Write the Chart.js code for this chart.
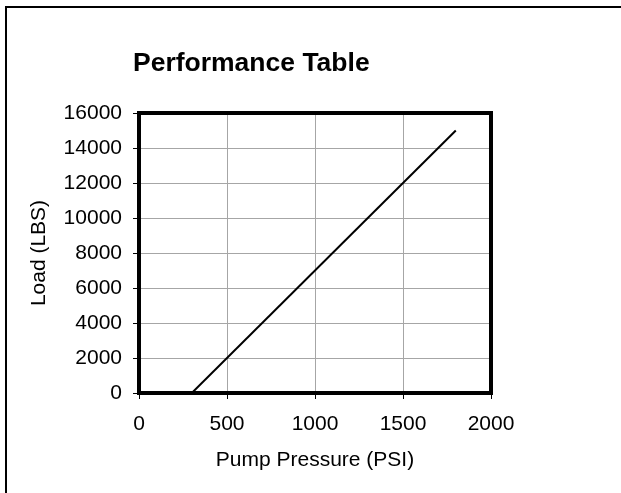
<!DOCTYPE html>
<html>
<head>
<meta charset="utf-8">
<script src="https://cdn.jsdelivr.net/npm/chart.js@4/dist/chart.umd.min.js"></script>
<style>
  html, body { margin: 0; padding: 0; background: #fff; }
  #wrap { position: relative; width: 621px; height: 493px; overflow: hidden; }
  #frame { position: absolute; left: 5px; top: 6px; width: 700px; height: 600px;
           border-top: 2px solid #000; border-left: 2px solid #000; box-sizing: border-box; }
  canvas { position: absolute; left: 0; top: 0; }
</style>
</head>
<body>
<div id="wrap">
  <div id="frame"></div>
  <canvas id="c" width="621" height="493"></canvas>
</div>
<script>
const chartTitle = "Performance Table";
const xTitle = "Pump Pressure (PSI)";
const yTitle = "Load (LBS)";
const pressurePSI = [300, 1800];
const loadLBS = [0, 15000];
const xTicks = [0, 500, 1000, 1500, 2000];
const yTicks = [0, 2000, 4000, 6000, 8000, 10000, 12000, 14000, 16000];

const FONT = '"Liberation Sans", Arial, sans-serif';

const framePlugin = {
  id: 'frameAndTitle',
  afterDraw(chart) {
    const {ctx, chartArea: a} = chart;
    ctx.save();
    ctx.strokeStyle = '#000';
    ctx.lineWidth = 4;
    ctx.strokeRect(a.left, a.top, a.right - a.left, a.bottom - a.top);
    ctx.fillStyle = '#000';
    ctx.font = 'bold 26.5px ' + FONT;
    ctx.textBaseline = 'alphabetic';
    ctx.textAlign = 'left';
    ctx.fillText(chartTitle, 133, 71);
    ctx.restore();
  }
};

new Chart(document.getElementById('c'), {
  type: 'scatter',
  data: {
    datasets: [{
      data: pressurePSI.map((p, i) => ({x: p, y: loadLBS[i]})),
      showLine: true,
      borderColor: '#000',
      borderWidth: 2,
      pointRadius: 0,
      fill: false
    }]
  },
  options: {
    responsive: false,
    animation: false,
    layout: { padding: { left: 0, top: 113, right: 130, bottom: 0 } },
    plugins: { legend: { display: false }, tooltip: { enabled: false }, title: { display: false } },
    scales: {
      x: {
        type: 'linear', min: 0, max: 2000,
        afterBuildTicks: s => { s.ticks = xTicks.map(v => ({value: v})); },
        afterFit: s => { s.height = 100; },
        grid: { color: '#a6a6a6', lineWidth: 1, tickColor: '#000', tickLength: 6 },
        border: { display: false },
        ticks: { color: '#000', padding: 13, font: { family: FONT, size: 21 }, maxRotation: 0,
                 callback: v => String(v) },
        title: { display: true, text: xTitle, color: '#000', font: { family: FONT, size: 21 }, padding: { top: 0, bottom: 20 } }
      },
      y: {
        type: 'linear', min: 0, max: 16000,
        afterBuildTicks: s => { s.ticks = yTicks.map(v => ({value: v})); },
        afterFit: s => { s.width = 139; },
        grid: { color: '#a6a6a6', lineWidth: 1, tickColor: '#000', tickLength: 6 },
        border: { display: false },
        ticks: { color: '#000', padding: 11, font: { family: FONT, size: 21 },
                 callback: v => String(v) },
        title: { display: true, text: yTitle, color: '#000', font: { family: FONT, size: 21 }, padding: { top: 27, bottom: 0 } }
      }
    }
  },
  plugins: [framePlugin]
});
</script>
</body>
</html>
